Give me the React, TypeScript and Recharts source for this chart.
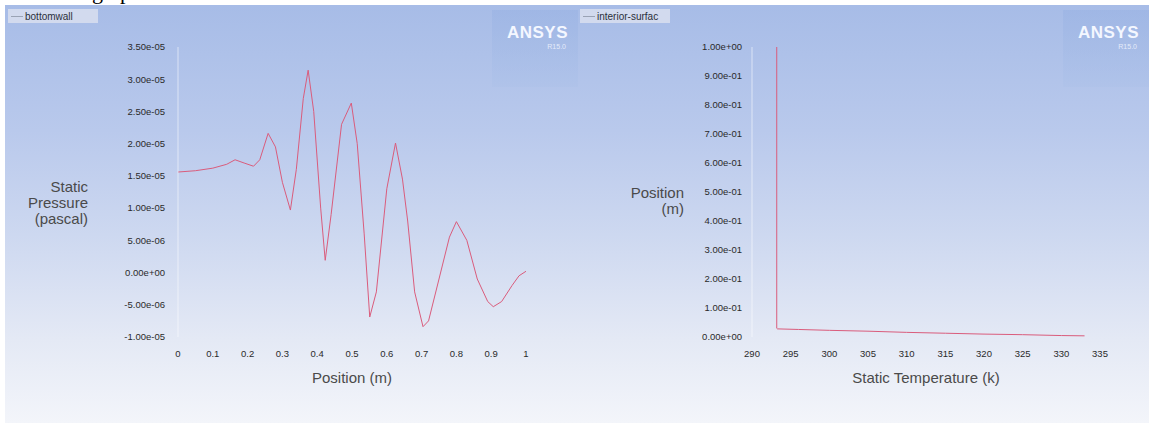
import React from 'react'
import { LineChart, Line, XAxis, YAxis } from 'recharts'

// bottomwall: static pressure along the wall
const wallPosition = [0, 0.05, 0.1, 0.14, 0.164, 0.19, 0.217, 0.235, 0.259, 0.28, 0.3, 0.323, 0.34, 0.36, 0.374, 0.39, 0.41, 0.423, 0.44, 0.47, 0.498, 0.515, 0.535, 0.551, 0.57, 0.6, 0.625, 0.645, 0.66, 0.68, 0.704, 0.72, 0.75, 0.78, 0.8, 0.83, 0.86, 0.89, 0.906, 0.93, 0.96, 0.98, 1]
const wallPressure = [1.56e-5, 1.58e-5, 1.62e-5, 1.68e-5, 1.75e-5, 1.7e-5, 1.65e-5, 1.75e-5, 2.16e-5, 1.95e-5, 1.4e-5, 0.97e-5, 1.6e-5, 2.7e-5, 3.14e-5, 2.5e-5, 1.0e-5, 0.19e-5, 0.9e-5, 2.3e-5, 2.63e-5, 2.0e-5, 0.6e-5, -0.69e-5, -0.3e-5, 1.3e-5, 2.01e-5, 1.45e-5, 0.8e-5, -0.3e-5, -0.84e-5, -0.75e-5, -0.1e-5, 0.55e-5, 0.79e-5, 0.5e-5, -0.1e-5, -0.45e-5, -0.53e-5, -0.45e-5, -0.2e-5, -0.05e-5, 0.02e-5]
const pressureTicks = [-1e-5, -5e-6, 0, 5e-6, 1e-5, 1.5e-5, 2e-5, 2.5e-5, 3e-5, 3.5e-5]
const positionTicks = [0, 0.1, 0.2, 0.3, 0.4, 0.5, 0.6, 0.7, 0.8, 0.9, 1]

// interior-surface: temperature profile
const surfTemperature = [293.2, 293.2, 293.2, 293.3, 296, 300, 305, 310, 315, 320, 325, 330, 333]
const surfPosition = [1.0, 0.6, 0.03, 0.028, 0.026, 0.023, 0.02, 0.016, 0.013, 0.01, 0.008, 0.005, 0.004]
const heightTicks = [0, 0.1, 0.2, 0.3, 0.4, 0.5, 0.6, 0.7, 0.8, 0.9, 1]
const temperatureTicks = [290, 295, 300, 305, 310, 315, 320, 325, 330, 335]

const wallData = wallPosition.map((x, i) => ({ x, p: wallPressure[i] }))
const surfData = surfTemperature.map((t, i) => ({ t, y: surfPosition[i] }))

const FONT = '"Liberation Sans", Arial, sans-serif'
const tickStyle = { fontSize: 9.5, fill: '#2a2a2a', fontFamily: FONT }
const titleColor = '#4a4a4a'
const lineColor = '#da5c7c'

const fmtExp = (v: number) => {
  const [m, e] = v.toExponential(2).split('e')
  const sign = e[0] === '-' ? '-' : '+'
  return `${m}e${sign}${e.replace(/[+-]/, '').padStart(2, '0')}`
}

const panelStyle: React.CSSProperties = {
  position: 'absolute',
  top: 5,
  height: 418,
  background: 'linear-gradient(180deg, #a7bce7 0%, #b9c9ec 30%, #cdd8f0 55%, #e4e9f5 80%, #f3f5fa 100%)',
}

function YTitle({ lines, x, y }: { lines: string[]; x: number; y: number }) {
  return (
    <text x={x} y={y} textAnchor="end" fontSize={15} fill={titleColor} fontFamily={FONT}>
      {lines.map((l, i) => (
        <tspan key={i} x={x} dy={i === 0 ? 0 : 16}>{l}</tspan>
      ))}
    </text>
  )
}

function SeriesTag({ left, name }: { left: number; name: string }) {
  return (
    <div style={{ position: 'absolute', left, top: 4, height: 14, width: 90, background: 'rgba(214,221,238,0.9)', display: 'flex', alignItems: 'center', fontFamily: FONT, fontSize: 10, color: '#2b2f3a', overflow: 'hidden', whiteSpace: 'nowrap' }}>
      <span style={{ display: 'inline-block', width: 12, height: 1, background: '#9aa3b5', margin: '0 2px 0 3px' }} />
      {name}
    </div>
  )
}

function Logo({ left }: { left: number }) {
  return (
    <div style={{ position: 'absolute', left, top: 5, width: 86, height: 77, background: 'linear-gradient(180deg, rgba(150,176,226,0.45), rgba(170,192,232,0.35))', fontFamily: FONT, color: '#f4f7ff', textAlign: 'right' }}>
      <div style={{ fontSize: 17, fontWeight: 'bold', marginTop: 13, marginRight: 10, letterSpacing: 0.5 }}>ANSYS</div>
      <div style={{ fontSize: 7, marginRight: 12, opacity: 0.8 }}>R15.0</div>
    </div>
  )
}

export default function App() {
  return (
    <div style={{ position: 'absolute', left: 0, top: 0, width: 1149, height: 423, background: '#fff', overflow: 'hidden' }}>
      <div style={{ position: 'absolute', left: 92, top: -21, fontFamily: '"Liberation Serif", serif', fontSize: 22, color: '#000' }}>graph</div>

      <div style={{ ...panelStyle, left: 5, width: 573 }}>
        <LineChart width={573} height={418} data={wallData} margin={{ top: 42, right: 52, bottom: 40, left: 73 }}>
          <XAxis
            type="number"
            dataKey="x"
            domain={[0, 1]}
            ticks={positionTicks}
            tickSize={0}
            tickMargin={13}
            tick={tickStyle}
            axisLine={false}
            height={46}
            label={{ value: 'Position (m)', position: 'insideBottom', offset: 0, fontSize: 15, fill: titleColor, fontFamily: FONT }}
          />
          <YAxis
            type="number"
            domain={[-1e-5, 3.5e-5]}
            ticks={pressureTicks}
            tickFormatter={fmtExp}
            tickSize={0}
            tickMargin={13}
            tick={tickStyle}
            width={100}
            axisLine={{ stroke: 'rgba(255,255,255,0.55)' }}
            label={(props: any) => <YTitle lines={['Static', 'Pressure', '(pascal)']} x={props.viewBox.x + 10} y={187} />}
          />
          <Line type="linear" dataKey="p" stroke={lineColor} strokeWidth={1} dot={false} isAnimationActive={false} />
        </LineChart>
        <SeriesTag left={3} name="bottomwall" />
        <Logo left={487} />
      </div>

      <div style={{ ...panelStyle, left: 578, width: 571 }}>
        <LineChart width={571} height={418} data={surfData} margin={{ top: 42, right: 49, bottom: 40, left: 74 }}>
          <XAxis
            type="number"
            dataKey="t"
            domain={[290, 335]}
            ticks={temperatureTicks}
            tickSize={0}
            tickMargin={13}
            tick={tickStyle}
            axisLine={false}
            height={46}
            label={{ value: 'Static Temperature (k)', position: 'insideBottom', offset: 0, fontSize: 15, fill: titleColor, fontFamily: FONT }}
          />
          <YAxis
            type="number"
            dataKey="y"
            domain={[0, 1]}
            ticks={heightTicks}
            tickFormatter={fmtExp}
            tickSize={0}
            tickMargin={10}
            tick={tickStyle}
            width={100}
            axisLine={{ stroke: 'rgba(255,255,255,0.55)' }}
            label={(props: any) => <YTitle lines={['Position', '(m)']} x={props.viewBox.x + 32} y={193} />}
          />
          <Line type="linear" dataKey="y" stroke={lineColor} strokeWidth={1} dot={false} isAnimationActive={false} />
        </LineChart>
        <SeriesTag left={2} name="interior-surfac" />
        <Logo left={485} />
      </div>
    </div>
  )
}
